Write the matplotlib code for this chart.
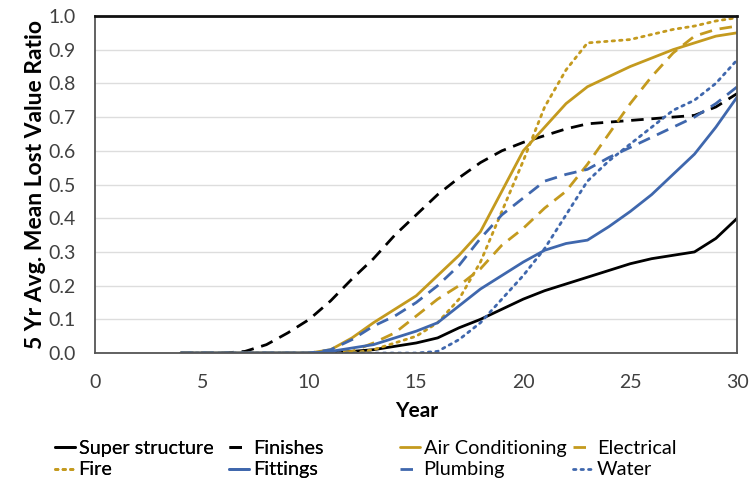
import matplotlib
matplotlib.use("Agg")
import matplotlib.pyplot as plt

plt.rcParams["font.family"] = ["Lato", "DejaVu Sans"]

# ===== data =====
years = list(range(4, 31))

super_structure = [0, 0, 0, 0, 0, 0, 0, 0, 0.005, 0.01, 0.02, 0.03, 0.045, 0.075, 0.10,
                   0.13, 0.16, 0.185, 0.205, 0.225, 0.245, 0.265, 0.28, 0.29, 0.30, 0.34, 0.40]
finishes = [0, 0, 0, 0.005, 0.025, 0.06, 0.10, 0.155, 0.22, 0.28, 0.35, 0.41, 0.47, 0.52, 0.565,
            0.60, 0.625, 0.645, 0.665, 0.68, 0.685, 0.69, 0.695, 0.70, 0.705, 0.73, 0.77]
air_conditioning = [0, 0, 0, 0, 0, 0, 0, 0.01, 0.045, 0.09, 0.13, 0.17, 0.23, 0.29, 0.36,
                    0.48, 0.60, 0.67, 0.74, 0.79, 0.82, 0.85, 0.875, 0.90, 0.92, 0.94, 0.95]
electrical = [0, 0, 0, 0, 0, 0, 0, 0, 0.005, 0.03, 0.06, 0.11, 0.16, 0.20, 0.25,
              0.32, 0.37, 0.43, 0.48, 0.56, 0.65, 0.74, 0.82, 0.89, 0.94, 0.96, 0.97]
fire = [0, 0, 0, 0, 0, 0, 0, 0, 0, 0.01, 0.03, 0.05, 0.09, 0.16, 0.27,
        0.42, 0.57, 0.73, 0.84, 0.92, 0.925, 0.93, 0.945, 0.96, 0.97, 0.985, 0.995]
fittings = [0, 0, 0, 0, 0, 0, 0, 0.005, 0.015, 0.025, 0.045, 0.065, 0.09, 0.14, 0.19,
            0.23, 0.27, 0.305, 0.325, 0.335, 0.375, 0.42, 0.47, 0.53, 0.59, 0.67, 0.76]
plumbing = [0, 0, 0, 0, 0, 0, 0, 0.01, 0.04, 0.08, 0.11, 0.15, 0.20, 0.26, 0.34,
            0.41, 0.46, 0.51, 0.53, 0.545, 0.58, 0.61, 0.64, 0.67, 0.70, 0.74, 0.79]
water = [0, 0, 0, 0, 0, 0, 0, 0, 0, 0, 0, 0, 0.005, 0.04, 0.09,
         0.16, 0.23, 0.31, 0.41, 0.51, 0.57, 0.62, 0.67, 0.72, 0.75, 0.80, 0.87]

GOLD = "#C49A1E"
BLUE = "#3F67AD"
BLACK = "#000000"

DASH = (0, (4.5, 2.8))
DOT = (0, (0.9, 1.8))

series = [
    ("Super structure", super_structure, BLACK, "-"),
    ("Finishes", finishes, BLACK, DASH),
    ("Air Conditioning", air_conditioning, GOLD, "-"),
    ("Electrical", electrical, GOLD, DASH),
    ("Fire", fire, GOLD, DOT),
    ("Fittings", fittings, BLUE, "-"),
    ("Plumbing", plumbing, BLUE, DASH),
    ("Water", water, BLUE, DOT),
]

fig = plt.figure(figsize=(7.5, 4.83), dpi=100)
ax = fig.add_axes([0.127, 0.269, 0.856, 0.698])

handles = []
for name, vals, col, ls in series:
    cap = "round" if ls is DOT else "butt"
    h, = ax.plot(years, vals, color=col, linestyle=ls, linewidth=2.0, label=name,
                 dash_capstyle=cap, solid_capstyle="round")
    handles.append(h)

ax.set_xlim(0, 30)
ax.set_ylim(0, 1.0)
ax.set_xticks(range(0, 31, 5))
ax.set_yticks([i / 10 for i in range(11)])
ax.set_yticklabels([f"{i / 10:.1f}" for i in range(11)])
ax.yaxis.grid(True, color="#DDDDDD", linewidth=1.0)
ax.set_axisbelow(True)
ax.tick_params(axis="both", length=0, labelsize=14, colors="#404040")
ax.tick_params(axis="x", pad=15)
ax.tick_params(axis="y", pad=14)

for side in ["left", "right", "bottom"]:
    ax.spines[side].set_color("#555555")
    ax.spines[side].set_linewidth(1.3)
ax.spines["top"].set_color("#111111")
ax.spines["top"].set_linewidth(2.0)

ax.set_xlabel("Year", fontsize=15, fontweight="bold", labelpad=7)
ax.set_ylabel("5 Yr Avg. Mean Lost Value Ratio", fontsize=16.5, fontweight="bold", labelpad=2)

# the original legend is laid out row by row in two blocks of two columns
leg_kw = dict(loc="upper left", ncol=2, frameon=False, fontsize=14.3,
              handlelength=1.0, handletextpad=0.2, labelspacing=0.25,
              borderaxespad=0, borderpad=0)
left_order = [0, 4, 1, 5]
right_order = [2, 6, 3, 7]
leg1 = fig.legend([handles[i] for i in left_order], [series[i][0] for i in left_order],
                  bbox_to_anchor=(0.073, 0.09), columnspacing=0.8, **leg_kw)
fig.add_artist(leg1)
fig.legend([handles[i] for i in right_order], [series[i][0] for i in right_order],
           bbox_to_anchor=(0.533, 0.09), columnspacing=0.35, **leg_kw)

fig.savefig("out.png", dpi=100)
